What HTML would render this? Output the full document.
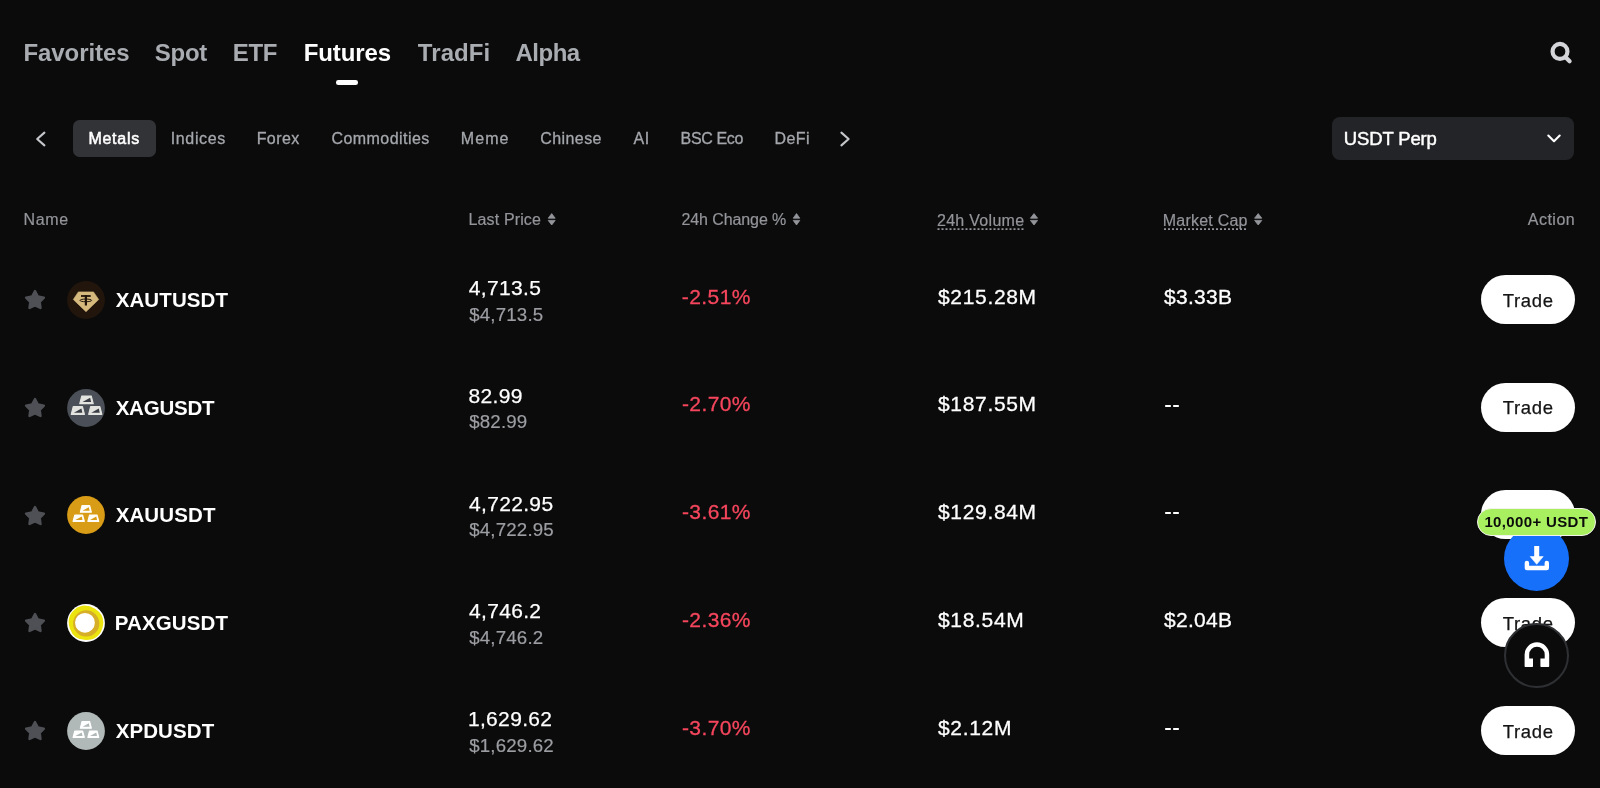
<!DOCTYPE html>
<html><head><meta charset="utf-8"><style>
html,body{margin:0;padding:0;background:#0b0b0b;width:1600px;height:788px;overflow:hidden;}
body{font-family:"Liberation Sans",sans-serif;color:#fff;}
#root{position:absolute;left:0;top:0;width:1600px;height:788px;background:#0b0b0b;will-change:transform;overflow:hidden;}
.t{position:absolute;height:0;line-height:0;white-space:nowrap;}
.abs{position:absolute;}
.nav{font-weight:700;color:#a9acb1;}
.nav.on{color:#fff;}
.tab{color:#a4a7ac;-webkit-text-stroke:0.3px #a4a7ac;}
.tabon{color:#fff;-webkit-text-stroke:0.55px #fff;}
.hd{color:#93959a;-webkit-text-stroke:0.2px #93959a;}
.name{font-weight:700;color:#fff;}
.pr{color:#fff;-webkit-text-stroke:0.25px #fff;}
.sub{color:#9c9ea3;-webkit-text-stroke:0.2px #9c9ea3;}
.chg{color:#f6465d;-webkit-text-stroke:0.3px #f6465d;}
.vol{color:#fff;-webkit-text-stroke:0.3px #fff;}
.btxt{color:#141414;-webkit-text-stroke:0.25px #141414;}
.usdt{color:#fff;-webkit-text-stroke:0.45px #fff;}
.badge{font-weight:700;color:#0b0b0b;}
.btn{position:absolute;left:1480.8px;width:94px;height:49px;border-radius:24.5px;background:#fff;}
.dash{position:absolute;width:6.2px;height:2px;background:#fff;border-radius:0.8px;}
</style></head>
<body><div id="root">
<div class="t nav" style="left:23.45px;top:53px;font-size:24px;letter-spacing:-0.068px;">Favorites</div>
<div class="t nav" style="left:154.75px;top:53px;font-size:24px;letter-spacing:-0.238px;">Spot</div>
<div class="t nav" style="left:232.85px;top:53px;font-size:24px;letter-spacing:-0.372px;">ETF</div>
<div class="t nav on" style="left:303.65px;top:53px;font-size:24px;letter-spacing:-0.088px;">Futures</div>
<div class="t nav" style="left:417.87px;top:53px;font-size:24px;letter-spacing:0.070px;">TradFi</div>
<div class="t nav" style="left:515.54px;top:53px;font-size:24px;letter-spacing:-0.519px;">Alpha</div>
<div class="abs" style="left:336px;top:80px;width:22.3px;height:4.6px;border-radius:2.3px;background:#fff"></div>
<svg class="abs" style="left:0;top:0" width="1600" height="200" viewBox="0 0 1600 200">
  <circle cx="1560" cy="51.4" r="7.45" fill="none" stroke="#d4d5d8" stroke-width="4.2"/>
  <line x1="1565.6" y1="57.2" x2="1569.6" y2="61.2" stroke="#d4d5d8" stroke-width="4.2" stroke-linecap="round"/>
  <polyline points="44.4,132.6 37.2,139 44.4,145.4" fill="none" stroke="#c4c6ca" stroke-width="2.1" stroke-linecap="round" stroke-linejoin="round"/>
  <polyline points="841.4,132.6 848.6,139 841.4,145.4" fill="none" stroke="#c4c6ca" stroke-width="2.1" stroke-linecap="round" stroke-linejoin="round"/>
</svg>
<div class="abs" style="left:73.4px;top:119.6px;width:82.6px;height:37.4px;border-radius:6.5px;background:#323337"></div>
<div class="t tabon" style="left:88.42px;top:139px;font-size:16px;letter-spacing:0.742px;">Metals</div>
<div class="t tab" style="left:170.76px;top:139px;font-size:16px;letter-spacing:0.629px;">Indices</div>
<div class="t tab" style="left:256.66px;top:139px;font-size:16px;letter-spacing:0.419px;">Forex</div>
<div class="t tab" style="left:331.48px;top:139px;font-size:16px;letter-spacing:0.443px;">Commodities</div>
<div class="t tab" style="left:460.86px;top:139px;font-size:16px;letter-spacing:1.047px;">Meme</div>
<div class="t tab" style="left:540.28px;top:139px;font-size:16px;letter-spacing:0.412px;">Chinese</div>
<div class="t tab" style="left:633.56px;top:139px;font-size:16px;letter-spacing:0.563px;">AI</div>
<div class="t tab" style="left:680.61px;top:139px;font-size:16px;letter-spacing:-0.356px;">BSC Eco</div>
<div class="t tab" style="left:774.56px;top:139px;font-size:16px;letter-spacing:0.384px;">DeFi</div>
<div class="abs" style="left:1332px;top:117px;width:242.3px;height:43px;border-radius:8px;background:#232427"></div>
<div class="t usdt" style="left:1343.85px;top:139px;font-size:18.5px;letter-spacing:-0.151px;">USDT Perp</div>
<svg class="abs" style="left:1540px;top:128px" width="30" height="24" viewBox="1540 128 30 24">
  <polyline points="1548.3,135.6 1554,141.2 1559.7,135.6" fill="none" stroke="#fff" stroke-width="2.1" stroke-linecap="round" stroke-linejoin="round"/>
</svg>
<div class="t hd" style="left:23.55px;top:220px;font-size:16px;letter-spacing:0.676px;">Name</div>
<div class="t hd" style="left:468.55px;top:220px;font-size:16px;letter-spacing:0.130px;">Last Price</div>
<div class="t hd" style="left:681.44px;top:220px;font-size:16px;letter-spacing:-0.093px;">24h Change %</div>
<div class="t hd" style="left:936.94px;top:221px;font-size:16px;letter-spacing:0.300px;">24h Volume</div>
<div class="t hd" style="left:1162.80px;top:221px;font-size:16px;letter-spacing:0.224px;">Market Cap</div>
<div class="t hd" style="left:1527.77px;top:220px;font-size:16px;letter-spacing:0.492px;">Action</div>
<svg class="abs" style="left:0;top:200px" width="1600" height="40" viewBox="0 200 1600 40">
  <g fill="#93959a" stroke="#93959a" stroke-width="0.8" stroke-linejoin="round">
    <path d="M548.2 218.2 L551.7 213.6 L555.2 218.2Z M548.2 220.4 L551.7 225.0 L555.2 220.4Z"/>
    <path d="M793.2 218.2 L796.5 213.6 L799.8 218.2Z M793.2 220.4 L796.5 225.0 L799.8 220.4Z"/>
    <path d="M1030.4 218.2 L1034.0 213.6 L1037.6 218.2Z M1030.4 220.4 L1034.0 225.0 L1037.6 220.4Z"/>
    <path d="M1254.6 218.2 L1258.2 213.6 L1261.8 218.2Z M1254.6 220.4 L1258.2 225.0 L1261.8 220.4Z"/>
  </g>
  <line x1="937.5" y1="229.2" x2="1024" y2="229.2" stroke="#93959a" stroke-width="1.8" stroke-dasharray="2 2"/>
  <line x1="1164" y1="229.2" x2="1248" y2="229.2" stroke="#93959a" stroke-width="1.8" stroke-dasharray="2 2"/>
</svg>
<svg class="abs" style="left:25px;top:290.10px" width="20" height="21" viewBox="0 0 20 21" overflow="visible"><polygon points="10.00,1.10 12.91,6.46 18.90,7.57 14.71,11.99 15.50,18.03 10.00,15.41 4.50,18.03 5.29,11.99 1.10,7.57 7.09,6.46" fill="#4e5056" stroke="#4e5056" stroke-width="2.4" stroke-linejoin="round"/></svg>
<svg class="abs" style="left:67.2px;top:280.80px" width="38" height="38" viewBox="0 0 38 38"><circle cx="19" cy="19" r="18.9" fill="#22150b"/><path d="M11.3,10.9 L26.5,10.9 L31.7,18.5 L19,30.7 L6.3,18.5Z" fill="#d5b97d" stroke="#d5b97d" stroke-width="0.6" stroke-linejoin="round"/><g fill="#22150b"><rect x="14" y="14.1" width="9.7" height="1.8"/><rect x="17.8" y="14.1" width="2.2" height="10.4"/><ellipse cx="18.8" cy="19.4" rx="5.8" ry="1.35" fill="none" stroke="#22150b" stroke-width="1.0"/></g></svg>
<div class="t name" style="left:115.63px;top:300px;font-size:20.5px;letter-spacing:0.115px;">XAUTUSDT</div>
<div class="t pr" style="left:468.81px;top:288px;font-size:21px;letter-spacing:0.331px;">4,713.5</div>
<div class="t sub" style="left:469.19px;top:315px;font-size:18.7px;letter-spacing:0.178px;">$4,713.5</div>
<div class="t chg" style="left:681.83px;top:297px;font-size:21px;letter-spacing:0.414px;">-2.51%</div>
<div class="t vol" style="left:938.01px;top:297px;font-size:21px;letter-spacing:0.670px;">$215.28M</div>
<div class="t vol" style="left:1164.01px;top:297px;font-size:21px;letter-spacing:0.295px;">$3.33B</div>
<div class="btn" style="top:275.00px"></div>
<div class="t btxt" style="left:1502.79px;top:301px;font-size:18.5px;letter-spacing:0.630px;">Trade</div>
<svg class="abs" style="left:25px;top:397.80px" width="20" height="21" viewBox="0 0 20 21" overflow="visible"><polygon points="10.00,1.10 12.91,6.46 18.90,7.57 14.71,11.99 15.50,18.03 10.00,15.41 4.50,18.03 5.29,11.99 1.10,7.57 7.09,6.46" fill="#4e5056" stroke="#4e5056" stroke-width="2.4" stroke-linejoin="round"/></svg>
<svg class="abs" style="left:67.2px;top:388.50px" width="38" height="38" viewBox="0 0 38 38"><circle cx="19" cy="19" r="18.9" fill="#4b5058"/><path d="M14.78,6.95 L24.23,6.95 L26.25,14.65 L12.75,14.65Z" fill="#e3e3e0" stroke="#e3e3e0" stroke-width="1.1" stroke-linejoin="round"/><path d="M15.45,12.96 L24.09,12.96 L23.14,8.80Z" fill="#3b3e44"/><path d="M6.23,17.55 L15.47,17.55 L17.45,25.35 L4.25,25.35Z" fill="#e3e3e0" stroke="#e3e3e0" stroke-width="1.1" stroke-linejoin="round"/><path d="M6.89,23.63 L15.34,23.63 L14.41,19.42Z" fill="#3b3e44"/><path d="M23.63,17.55 L32.87,17.55 L34.85,25.35 L21.65,25.35Z" fill="#e3e3e0" stroke="#e3e3e0" stroke-width="1.1" stroke-linejoin="round"/><path d="M24.29,23.63 L32.74,23.63 L31.81,19.42Z" fill="#3b3e44"/></svg>
<div class="t name" style="left:115.63px;top:408px;font-size:20.5px;letter-spacing:-0.218px;">XAGUSDT</div>
<div class="t pr" style="left:468.50px;top:396px;font-size:21px;letter-spacing:0.331px;">82.99</div>
<div class="t sub" style="left:469.19px;top:422px;font-size:18.7px;letter-spacing:0.178px;">$82.99</div>
<div class="t chg" style="left:681.93px;top:404px;font-size:21px;letter-spacing:0.414px;">-2.70%</div>
<div class="t vol" style="left:938.01px;top:404px;font-size:21px;letter-spacing:0.670px;">$187.55M</div>
<div class="dash" style="left:1164.7px;top:405px"></div><div class="dash" style="left:1173.2px;top:405px"></div>
<div class="btn" style="top:382.70px"></div>
<div class="t btxt" style="left:1502.79px;top:408px;font-size:18.5px;letter-spacing:0.630px;">Trade</div>
<svg class="abs" style="left:25px;top:505.50px" width="20" height="21" viewBox="0 0 20 21" overflow="visible"><polygon points="10.00,1.10 12.91,6.46 18.90,7.57 14.71,11.99 15.50,18.03 10.00,15.41 4.50,18.03 5.29,11.99 1.10,7.57 7.09,6.46" fill="#4e5056" stroke="#4e5056" stroke-width="2.4" stroke-linejoin="round"/></svg>
<svg class="abs" style="left:67.2px;top:496.20px" width="38" height="38" viewBox="0 0 38 38"><circle cx="19" cy="19" r="18.9" fill="#d99c16"/><path d="M15.00,9.55 L22.70,9.55 L24.35,16.15 L13.35,16.15Z" fill="#fffdf8" stroke="#fffdf8" stroke-width="1.1" stroke-linejoin="round"/><path d="M15.55,14.70 L22.59,14.70 L21.82,11.13Z" fill="#d99c16"/><path d="M7.75,19.05 L15.66,19.05 L17.35,25.35 L6.05,25.35Z" fill="#fffdf8" stroke="#fffdf8" stroke-width="1.1" stroke-linejoin="round"/><path d="M8.31,23.96 L15.54,23.96 L14.75,20.56Z" fill="#d99c16"/><path d="M22.49,19.05 L30.11,19.05 L31.75,25.35 L20.85,25.35Z" fill="#fffdf8" stroke="#fffdf8" stroke-width="1.1" stroke-linejoin="round"/><path d="M23.03,23.96 L30.01,23.96 L29.24,20.56Z" fill="#d99c16"/></svg>
<div class="t name" style="left:115.63px;top:515px;font-size:20.5px;letter-spacing:0.115px;">XAUUSDT</div>
<div class="t pr" style="left:469.01px;top:504px;font-size:21px;letter-spacing:0.331px;">4,722.95</div>
<div class="t sub" style="left:469.19px;top:530px;font-size:18.7px;letter-spacing:0.178px;">$4,722.95</div>
<div class="t chg" style="left:681.93px;top:512px;font-size:21px;letter-spacing:0.414px;">-3.61%</div>
<div class="t vol" style="left:938.01px;top:512px;font-size:21px;letter-spacing:0.670px;">$129.84M</div>
<div class="dash" style="left:1164.7px;top:512px"></div><div class="dash" style="left:1173.2px;top:512px"></div>
<div class="btn" style="top:490.40px"></div>
<div class="t btxt" style="left:1502.79px;top:516px;font-size:18.5px;letter-spacing:0.630px;">Trade</div>
<svg class="abs" style="left:25px;top:613.20px" width="20" height="21" viewBox="0 0 20 21" overflow="visible"><polygon points="10.00,1.10 12.91,6.46 18.90,7.57 14.71,11.99 15.50,18.03 10.00,15.41 4.50,18.03 5.29,11.99 1.10,7.57 7.09,6.46" fill="#4e5056" stroke="#4e5056" stroke-width="2.4" stroke-linejoin="round"/></svg>
<svg class="abs" style="left:67.2px;top:603.90px" width="38" height="38" viewBox="0 0 38 38"><defs><clipPath id="pc"><circle cx="19" cy="19" r="18.9"/></clipPath></defs><circle cx="19" cy="19" r="18.9" fill="#fff"/><g clip-path="url(#pc)"><path d="M7.99,5.16 Q17.15,-2.12 28.04,4.81 Q38.92,11.75 35.49,23.73 Q32.05,35.71 19.45,36.04 Q6.84,36.37 2.84,24.41 Q-1.16,12.45 7.99,5.16 Z" fill="#ece40f"/></g><circle cx="19.2" cy="19.4" r="13.1" fill="#d6ae27"/><circle cx="17.95" cy="18.85" r="9.9" fill="#fff"/></svg>
<div class="t name" style="left:114.77px;top:623px;font-size:20.5px;letter-spacing:0.115px;">PAXGUSDT</div>
<div class="t pr" style="left:469.01px;top:611px;font-size:21px;letter-spacing:0.331px;">4,746.2</div>
<div class="t sub" style="left:469.19px;top:638px;font-size:18.7px;letter-spacing:0.178px;">$4,746.2</div>
<div class="t chg" style="left:681.93px;top:620px;font-size:21px;letter-spacing:0.414px;">-2.36%</div>
<div class="t vol" style="left:938.01px;top:620px;font-size:21px;letter-spacing:0.670px;">$18.54M</div>
<div class="t vol" style="left:1164.01px;top:620px;font-size:21px;letter-spacing:0.295px;">$2.04B</div>
<div class="btn" style="top:598.10px"></div>
<div class="t btxt" style="left:1502.79px;top:624px;font-size:18.5px;letter-spacing:0.630px;">Trade</div>
<svg class="abs" style="left:25px;top:720.90px" width="20" height="21" viewBox="0 0 20 21" overflow="visible"><polygon points="10.00,1.10 12.91,6.46 18.90,7.57 14.71,11.99 15.50,18.03 10.00,15.41 4.50,18.03 5.29,11.99 1.10,7.57 7.09,6.46" fill="#4e5056" stroke="#4e5056" stroke-width="2.4" stroke-linejoin="round"/></svg>
<svg class="abs" style="left:67.2px;top:711.60px" width="38" height="38" viewBox="0 0 38 38"><circle cx="19" cy="19" r="18.9" fill="#b1b8b8"/><path d="M15.00,9.55 L22.70,9.55 L24.35,16.15 L13.35,16.15Z" fill="#ffffff" stroke="#ffffff" stroke-width="1.1" stroke-linejoin="round"/><path d="M15.55,14.70 L22.59,14.70 L21.82,11.13Z" fill="#b1b8b8"/><path d="M7.75,19.05 L15.66,19.05 L17.35,25.35 L6.05,25.35Z" fill="#ffffff" stroke="#ffffff" stroke-width="1.1" stroke-linejoin="round"/><path d="M8.31,23.96 L15.54,23.96 L14.75,20.56Z" fill="#b1b8b8"/><path d="M22.49,19.05 L30.11,19.05 L31.75,25.35 L20.85,25.35Z" fill="#ffffff" stroke="#ffffff" stroke-width="1.1" stroke-linejoin="round"/><path d="M23.03,23.96 L30.01,23.96 L29.24,20.56Z" fill="#b1b8b8"/></svg>
<div class="t name" style="left:115.63px;top:731px;font-size:20.5px;letter-spacing:0.115px;">XPDUSDT</div>
<div class="t pr" style="left:467.94px;top:719px;font-size:21px;letter-spacing:0.331px;">1,629.62</div>
<div class="t sub" style="left:469.19px;top:746px;font-size:18.7px;letter-spacing:0.178px;">$1,629.62</div>
<div class="t chg" style="left:681.93px;top:728px;font-size:21px;letter-spacing:0.414px;">-3.70%</div>
<div class="t vol" style="left:938.01px;top:728px;font-size:21px;letter-spacing:0.670px;">$2.12M</div>
<div class="dash" style="left:1164.7px;top:728px"></div><div class="dash" style="left:1173.2px;top:728px"></div>
<div class="btn" style="top:705.80px"></div>
<div class="t btxt" style="left:1502.79px;top:732px;font-size:18.5px;letter-spacing:0.630px;">Trade</div>
<div class="abs" style="left:1504.3px;top:525.8px;width:65px;height:65px;border-radius:50%;background:#1670fa"></div>
<svg class="abs" style="left:1504px;top:525px" width="66" height="66" viewBox="1504 525 66 66">
  <rect x="1534.2" y="546" width="5" height="12" fill="#fff"/>
  <path d="M1530.2,556.6 L1543.2,556.6 L1536.7,564.3Z" fill="#fff" stroke="#fff" stroke-width="0.6" stroke-linejoin="round"/>
  <path d="M1526.9,562.9 L1526.9,568 L1546.8,568 L1546.8,562.9" fill="none" stroke="#fff" stroke-width="4.4" stroke-linecap="round" stroke-linejoin="round"/>
</svg>
<div class="abs" style="left:1477px;top:508px;width:117px;height:26px;border-radius:14px;background:#a8f060;border:1px solid #f2f2ec"></div>
<div class="t badge" style="left:1484.40px;top:522px;font-size:15px;letter-spacing:0.358px;">10,000+ USDT</div>
<div class="abs" style="left:1504.1px;top:622.9px;width:61.2px;height:61.2px;border-radius:50%;background:#0b0b0b;border:2px solid #2e3034"></div>
<svg class="abs" style="left:1504px;top:622px" width="66" height="66" viewBox="1504 622 66 66">
  <path d="M1524.6,666.3 L1524.6,654.6 A12.3,12.3 0 0 1 1549.2,654.6 L1549.2,666.3 Q1549.2,667 1548.5,667 L1541.1,667 Q1540.4,667 1540.4,666.3 L1540.4,658.6 L1544.7,658.6 L1544.7,654.6 A7.75,7.75 0 0 0 1529.2,654.6 L1529.2,658.6 L1533,658.6 L1533,666.3 Q1533,667 1532.3,667 L1525.3,667 Q1524.6,667 1524.6,666.3Z" fill="#fff"/>
</svg>
</div></body></html>
